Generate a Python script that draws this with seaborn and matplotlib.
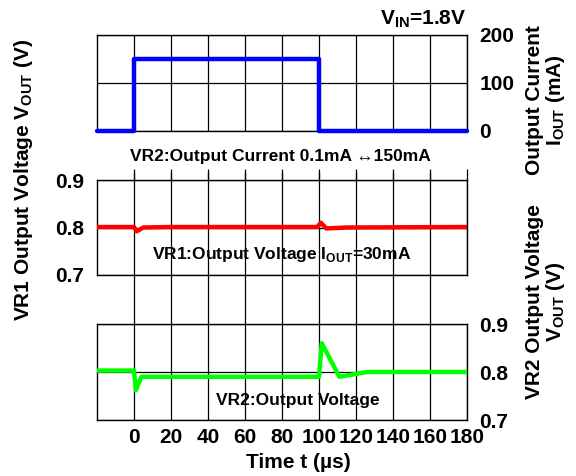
import matplotlib.pyplot as plt
import seaborn as sns

# time axis (us)
ticks_x = [0, 20, 40, 60, 80, 100, 120, 140, 160, 180]

# VR2 output current step (mA)
t_cur = [-20, 0, 0, 100, 100, 180]
i_out = [0, 0, 150, 150, 0, 0]

# VR1 output voltage (V), Iout = 30mA
t_vr1 = [-20, 0, 1.5, 5, 20, 99, 101, 104, 115, 180]
v_vr1 = [0.801, 0.801, 0.792, 0.800, 0.801, 0.801, 0.810, 0.798, 0.800, 0.801]

# VR2 output voltage (V)
t_vr2 = [-20, 0, 1, 4, 60, 100, 101.5, 111, 126, 180]
v_vr2 = [0.803, 0.803, 0.762, 0.790, 0.790, 0.790, 0.860, 0.790, 0.800, 0.800]

sns.set_theme(style='white')
plt.rcParams['font.family'] = ['Liberation Sans', 'DejaVu Sans']
plt.rcParams['mathtext.fontset'] = 'custom'
plt.rcParams['mathtext.rm'] = 'Liberation Sans:bold'
plt.rcParams['mathtext.sf'] = 'Liberation Sans:bold'
plt.rcParams['text.color'] = 'black'
plt.rcParams['xtick.color'] = 'black'
plt.rcParams['ytick.color'] = 'black'

W, H = 576, 476
fig = plt.figure(figsize=(5.76, 4.76), dpi=100)
left, width = 97 / W, 370 / W

# vertical grid shared between the lower two panels
ax_bg = fig.add_axes([left, 1 - 324 / H, width, 152 / H], zorder=0)
ax_bg.axis('off')
ax_bg.set_xlim(-20, 180)
ax_bg.set_ylim(0, 1)
ax_bg.vlines(ticks_x[:-1], 0, 1, color='black', lw=0.9)

ax1 = fig.add_axes([left, 1 - 131 / H, width, 96 / H], zorder=1)
ax2 = fig.add_axes([left, 1 - 275 / H, width, 95 / H], zorder=1)
ax3 = fig.add_axes([left, 1 - 420 / H, width, 96 / H], zorder=1)

sns.lineplot(x=t_cur, y=i_out, ax=ax1, color='#0000ff', linewidth=3.2,
             estimator=None, sort=False, clip_on=False, zorder=5)
sns.lineplot(x=t_vr1, y=v_vr1, ax=ax2, color='#ff0000', linewidth=3.2,
             estimator=None, sort=False, zorder=5)
sns.lineplot(x=t_vr2, y=v_vr2, ax=ax3, color='#00ff00', linewidth=3.2,
             estimator=None, sort=False, zorder=5)

for ax in (ax1, ax2, ax3):
    ax.set_xlim(-20, 180)
    ax.set_xticks(ticks_x)
    ax.grid(True, color='black', lw=0.9)
    ax.set_axisbelow(True)
    for s in ax.spines.values():
        s.set_color('black')
        s.set_linewidth(1.0)
    ax.set_xlabel('')
    ax.set_ylabel('')
    ax.tick_params(axis='y', length=0, labelsize=15, pad=9, labelcolor='black')

ax1.set_ylim(0, 200)
ax1.set_yticks([0, 100, 200])
ax1.yaxis.tick_right()
ax1.tick_params(axis='x', length=6, width=0.9, direction='out', labelbottom=False, color='black')

ax2.set_ylim(0.7, 0.9)
ax2.set_yticks([0.7, 0.8, 0.9])
ax2.set_yticklabels(['0.7', '0.8', '0.9'])
ax2.tick_params(axis='x', top=True, length=8, width=0.9, labelbottom=False, color='black')

ax3.set_ylim(0.7, 0.9)
ax3.set_yticks([0.7, 0.8, 0.9])
ax3.set_yticklabels(['0.7', '0.8', '0.9'])
ax3.yaxis.tick_right()
ax3.tick_params(axis='x', length=0, labelsize=15, pad=6, labelcolor='black')

for ax in (ax1, ax2, ax3):
    for lab in ax.get_xticklabels() + ax.get_yticklabels():
        lab.set_fontweight('bold')

# axis titles
fig.text(298 / W, 1 - 463 / H, 'Time t (µs)', ha='center', va='center',
         fontsize=15, fontweight='bold')
fig.text(24 / W, 1 - 180 / H, r'VR1 Output Voltage V$_{\mathrm{OUT}}$ (V)',
         ha='center', va='center', rotation=90, fontsize=15, fontweight='bold')
fig.text(546 / W, 1 - 100 / H, 'Output Current\n' + r'I$_{\mathrm{OUT}}$ (mA)',
         ha='center', va='center', rotation=90, fontsize=15, fontweight='bold',
         linespacing=0.95)
fig.text(546 / W, 1 - 302 / H, 'VR2 Output Voltage\n' + r'V$_{\mathrm{OUT}}$ (V)',
         ha='center', va='center', rotation=90, fontsize=15, fontweight='bold',
         linespacing=0.95)

# annotations
fig.text(466 / W, 1 - 19 / H, r'V$_{\mathrm{IN}}$=1.8V', ha='right', va='center',
         fontsize=15, fontweight='bold')
fig.text(280 / W, 1 - 157 / H, 'VR2:Output Current 0.1mA ↔150mA',
         ha='center', va='center', fontsize=12.5, fontweight='bold')
fig.text(282 / W, 1 - 255 / H, r'VR1:Output Voltage I$_{\mathsf{OUT}}$=30mA',
         ha='center', va='center', fontsize=12.5, fontweight='bold')
fig.text(298 / W, 1 - 400 / H, 'VR2:Output Voltage',
         ha='center', va='center', fontsize=12.5, fontweight='bold')

fig.savefig('out.png', dpi=100)
